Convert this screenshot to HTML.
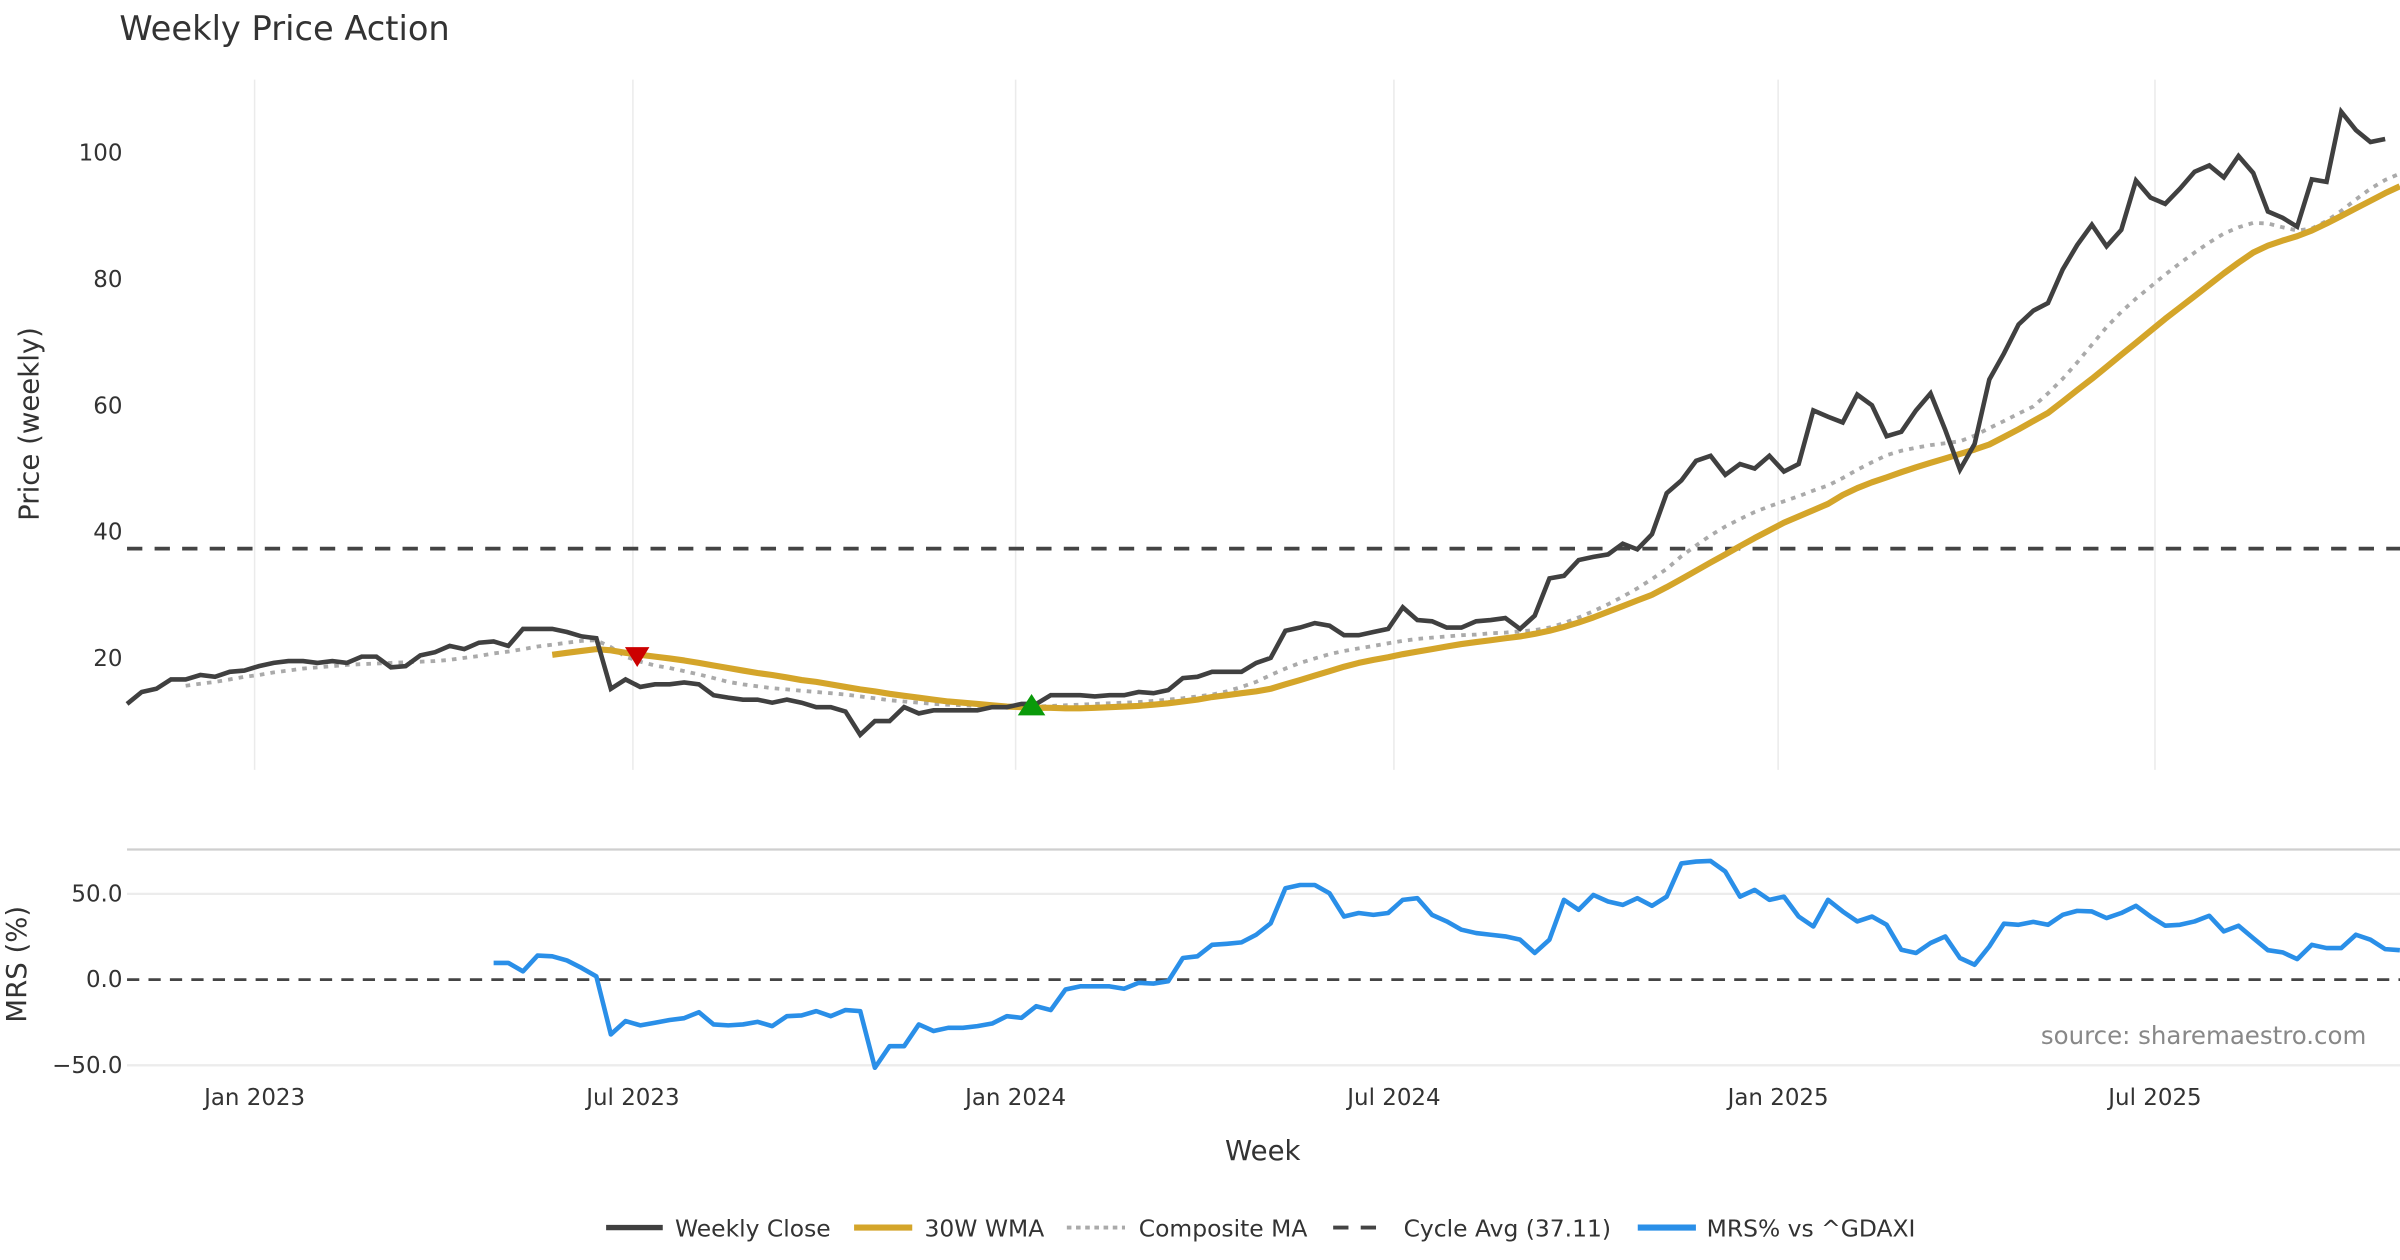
<!DOCTYPE html>
<html><head><meta charset="utf-8"><title>Weekly Price Action</title>
<style>
html,body{margin:0;padding:0;background:#fff;}
svg{display:block;font-family:"DejaVu Sans","Liberation Sans",sans-serif;}
</style></head>
<body>
<svg id="chart" width="2400" height="1260" viewBox="0 0 1568 823.2" preserveAspectRatio="none" xmlns="http://www.w3.org/2000/svg">
<rect x="0" y="0" width="1568" height="823.2" fill="#fff"/>
<text x="78" y="26" font-size="22" fill="#333">Weekly Price Action</text>
<g id="grid"></g>
<g id="axes"></g>
<g id="series"></g>
<text transform="translate(25,277) rotate(-90)" text-anchor="middle" font-size="18" fill="#333">Price (weekly)</text>
<text transform="translate(17,630) rotate(-90)" text-anchor="middle" font-size="18" fill="#333">MRS (%)</text>
<text x="825" y="758" text-anchor="middle" font-size="18" fill="#333">Week</text>
<text x="1546" y="682" text-anchor="end" font-size="16" fill="#888">source: sharemaestro.com</text>
<g id="legend">
  <g><line x1="396" y1="802" x2="433" y2="802" stroke="#404040" stroke-width="3.5"/><text x="441" y="808" font-size="15.3" fill="#333">Weekly Close</text></g>
  <g><line x1="558" y1="802" x2="596" y2="802" stroke="#d4a52a" stroke-width="4"/><text x="604" y="808" font-size="15.3" fill="#333">30W WMA</text></g>
  <g><line x1="697" y1="802" x2="735" y2="802" stroke="#aaa" stroke-width="2.5" stroke-dasharray="3,3"/><text x="744" y="808" font-size="15.3" fill="#333">Composite MA</text></g>
  <g><line x1="871" y1="802" x2="907" y2="802" stroke="#444" stroke-width="2.5" stroke-dasharray="10,8"/><text x="917" y="808" font-size="15.3" fill="#333">Cycle Avg (37.11)</text></g>
  <g><line x1="1070" y1="802" x2="1108" y2="802" stroke="#2a8fe8" stroke-width="4"/><text x="1115" y="808" font-size="15.3" fill="#333">MRS% vs ^GDAXI</text></g>
</g>
</svg>
<script>
const priceTicks = [20, 40, 60, 80, 100];
const mrsTicks = [50, 0, -50];
const mrsTickLabels = ["50.0", "0.0", "\u221250.0"];
const dateLabels = ["Jan 2023", "Jul 2023", "Jan 2024", "Jul 2024", "Jan 2025", "Jul 2025"];
const dateWeeks = [8.7, 34.5, 60.6, 86.4, 112.6, 138.3];
const cycleAvg = 37.11;
const closeVals = [12.5,14.4,14.9,16.4,16.4,17.1,16.8,17.6,17.8,18.5,19.0,19.3,19.3,19.0,19.3,19.0,20.0,20.0,18.3,18.5,20.2,20.7,21.7,21.2,22.2,22.4,21.7,24.4,24.4,24.4,23.9,23.2,22.9,
14.9,16.4,15.2,15.6,15.6,15.9,15.6,13.9,13.5,13.2,13.2,12.7,13.2,12.7,12.0,12.0,11.3,7.6,9.8,9.8,12.0,11.0,11.5,11.5,11.5,11.5,12.0,12.0,12.5,12.5,13.9,13.9,13.9,13.7,13.9,13.9,14.4,14.2,14.7,16.6,16.8,17.6,17.6,17.6,19.0,19.8,24.1,24.6,25.3,24.9,23.4,23.4,23.9,24.4,27.8,25.8,25.6,24.6,24.6,25.6,25.8,26.1,24.4,
26.5,32.4,32.8,35.3,35.8,36.2,37.9,37.0,39.4,45.9,47.9,51.0,51.8,48.8,50.5,49.8,51.8,49.3,50.5,59.0,58.0,57.1,61.5,59.8,54.9,55.6,59.0,61.7,55.9,49.6,53.7,63.9,68.0,72.6,74.8,76.0,81.3,85.2,88.4,85.0,87.6,95.4,92.7,91.7,94.1,96.8,97.8,95.9,99.3,96.6,90.5,89.5,88.1,95.6,95.2,106.3,103.4,101.5,102.0];
const wmaStart = 29;
const wmaVals = [20.3,20.6,20.9,21.2,21.0,
20.6,20.3,20.0,19.7,19.4,19.0,18.6,18.2,17.8,17.4,
17.1,16.7,16.3,16.0,15.6,15.2,14.8,14.5,14.1,13.8,
13.5,13.2,12.9,12.7,12.5,12.3,12.1,12.0,11.9,11.9,
11.8,11.8,11.9,12.0,12.1,12.2,12.4,12.6,12.9,13.2,
13.6,13.9,14.2,14.5,14.9,15.6,16.3,17.0,17.7,18.4,
19.0,19.5,19.9,20.4,20.8,21.2,21.6,22.0,22.3,22.6,
22.9,23.2,23.6,24.1,24.7,25.4,26.2,27.1,28.0,28.9,
29.8,31.0,32.3,33.6,34.9,36.2,37.5,38.8,40.0,41.2,42.2,43.2,
44.2,45.6,46.7,47.6,48.4,49.2,50.0,50.7,51.4,52.1,52.8,53.6,
54.8,56.0,57.3,58.6,60.4,62.2,64.0,65.9,67.8,69.7,71.6,73.5,
75.3,77.1,78.9,80.7,82.4,84.0,85.1,85.9,86.6,87.5,88.6,89.8,91.0,92.2,93.4,94.5];
const compStart = 4;
const compVals = [15.4,15.7,16.0,16.4,16.8,17.1,17.5,17.8,18.1,18.3,
18.5,18.7,18.8,18.9,19.0,19.1,19.2,19.3,19.5,19.8,
20.1,20.5,20.8,21.2,21.6,21.9,22.2,22.5,22.6,21.5,20.0,19.2,
18.6,18.2,17.7,17.2,16.6,16.0,15.6,15.3,15.0,14.8,
14.6,14.4,14.2,14.0,13.7,13.4,13.1,12.9,12.7,12.5,
12.4,12.3,12.2,12.1,12.0,12.0,12.1,12.2,12.3,12.4,
12.5,12.6,12.7,12.8,13.0,13.2,13.4,13.7,14.0,14.5,
15.2,16.0,17.1,18.1,19.0,19.7,20.4,20.9,21.3,21.7,
22.1,22.5,22.8,23.0,23.2,23.4,23.5,23.7,23.8,24.0,
24.2,24.6,25.3,26.2,27.2,28.3,29.5,30.8,32.3,33.9,
35.9,37.6,39.2,40.6,41.8,42.9,43.8,44.6,45.4,46.3,
47.1,48.3,49.6,50.8,51.9,52.6,53.1,53.5,53.8,54.1,
55.0,56.2,57.3,58.5,59.6,61.7,64.0,66.6,69.4,72.2,
74.6,76.7,78.6,80.5,82.3,84.0,85.6,87.0,88.0,88.7,
88.6,88.0,87.5,87.8,89.0,90.6,92.4,94.1,95.5,96.5];
const mrsStart = 25;
const mrsVals = [9.7,9.7,4.8,14.0,13.6,11.2,6.8,1.9,-32.0,-24.2,
-26.7,-25.2,-23.6,-22.5,-19.0,-26.2,-26.7,-26.2,-24.6,-27.1,
-21.3,-20.9,-18.4,-21.3,-17.8,-18.4,-51.4,-38.8,-38.8,-26.2,
-30.0,-28.1,-28.1,-27.1,-25.6,-21.3,-22.3,-15.5,-17.8,-5.8,
-3.9,-3.9,-3.9,-5.4,-1.9,-2.3,-1.0,12.6,13.6,20.3,
20.9,21.7,26.2,32.9,53.3,55.2,55.2,50.4,36.8,38.8,
37.8,38.8,46.5,47.5,37.8,33.9,29.1,27.1,26.2,25.2,
23.3,15.5,23.3,46.5,40.7,49.4,45.5,43.6,47.5,43.0,
48.4,67.8,68.8,69.2,63.0,48.4,52.3,46.5,48.4,36.8,
31.0,46.5,39.7,33.9,36.8,32.0,17.4,15.5,21.3,25.2,
12.6,8.7,19.4,32.6,32.0,33.7,32.0,37.8,40.1,39.7,
35.9,38.8,43.0,36.8,31.4,32.0,33.9,37.2,28.1,31.4,
24.2,17.1,15.9,12.0,20.3,18.4,18.4,26.2,23.3,17.8,17.1];
const sellWeek = 35;
const buyWeek = 62;

const NS = "http://www.w3.org/2000/svg";
const X0 = 83, STEP = 9.58, XR = 1568;
function xs(w){ return X0 + w*STEP; }
function yp(v){ return 429 - (v-20)*4.125; }
function ym(v){ return 640 - v*1.12; }
function mk(tag, attrs, parent){
  const e = document.createElementNS(NS, tag);
  for (const k in attrs) e.setAttribute(k, attrs[k]);
  parent.appendChild(e);
  return e;
}
const grid = document.getElementById('grid');
const axes = document.getElementById('axes');
const series = document.getElementById('series');

dateWeeks.forEach((w, i) => {
  const gl = mk('line', {x1: xs(w), x2: xs(w), y1: 52, y2: 503, stroke: '#ebebeb', 'stroke-width': 1}, grid);
  
  
  const t = mk('text', {x: xs(w), y: 722, 'text-anchor': 'middle', 'font-size': 15, fill: '#333'}, axes);
  t.textContent = dateLabels[i];
  
  
});
priceTicks.forEach(v => {
  const t = mk('text', {x: 80, y: yp(v)+6, 'text-anchor': 'end', 'font-size': 15, fill: '#333'}, axes);
  t.textContent = String(v);
  
  
});
const sep = mk('line', {x1: X0, x2: XR, y1: 555, y2: 555, stroke: '#cfcfcf', 'stroke-width': 1.5}, grid);


mrsTicks.forEach((v, i) => {
  if (v !== 0) {
    const g = mk('line', {x1: X0, x2: XR, y1: ym(v), y2: ym(v), stroke: '#ececec', 'stroke-width': 1.5}, grid);
    
    
  }
  const t = mk('text', {x: 80, y: ym(v)+5, 'text-anchor': 'end', 'font-size': 15, fill: '#333'}, axes);
  t.textContent = mrsTickLabels[i];
  
  
});
const zl = mk('line', {x1: X0, x2: XR, y1: ym(0), y2: ym(0), stroke: '#444', 'stroke-width': 1.8, 'stroke-dasharray': '8,6'}, grid);



function pathFrom(vals, start, yf){
  return vals.map((v, i) => (i ? 'L' : 'M') + xs(start+i).toFixed(1) + ',' + yf(v).toFixed(1)).join(' ');
}
const ca = mk('line', {x1: X0, x2: XR, y1: yp(cycleAvg), y2: yp(cycleAvg), stroke: '#444', 'stroke-width': 2.5, 'stroke-dasharray': '10,8'}, series);


const cm = mk('path', {d: pathFrom(compVals, compStart, yp), fill: 'none', stroke: '#aaa', 'stroke-width': 2.5, 'stroke-dasharray': '3,4'}, series);


const wm = mk('path', {d: pathFrom(wmaVals, wmaStart, yp), fill: 'none', stroke: '#d4a52a', 'stroke-width': 4, 'stroke-linejoin': 'round'}, series);


const cl = mk('path', {d: pathFrom(closeVals, 0, yp), fill: 'none', stroke: '#404040', 'stroke-width': 3, 'stroke-linejoin': 'miter'}, series);


const mr = mk('path', {d: pathFrom(mrsVals, mrsStart, ym), fill: 'none', stroke: '#2a8fe8', 'stroke-width': 3, 'stroke-linejoin': 'round'}, series);



const sx = xs(sellWeek) - 2, sy = yp(wmaVals[sellWeek - wmaStart]);
const sell = mk('path', {d: `M${sx-8},${sy-5} L${sx+8},${sy-5} L${sx},${sy+8} Z`, fill: '#cc0000'}, series);


const bx = xs(buyWeek) - 3, by = yp(wmaVals[buyWeek - wmaStart]);
const buy = mk('path', {d: `M${bx-9},${by+5} L${bx+9},${by+5} L${bx},${by-9} Z`, fill: '#0a9a0a'}, series);


</script>
</body></html>
